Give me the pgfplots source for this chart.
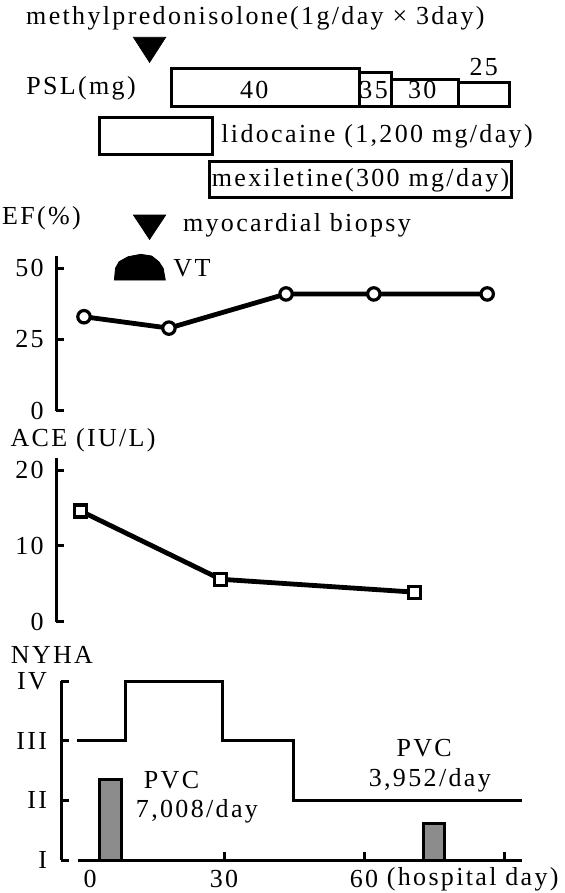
\documentclass[12pt,border=0pt]{standalone}
\usepackage{fontspec}
\setmainfont{Liberation Serif}[LetterSpace=9]
\usepackage{pgfplots}
\pgfplotsset{compat=1.18}
\pgfplotsset{every axis/.append style={font=\fontsize{13pt}{15pt}\selectfont}}
\begin{document}
\begin{tikzpicture}[every node/.style={inner sep=0pt}]
% ---------- canvas axis: x = hospital day, y = vertical position (reversed) ----------
\begin{axis}[at={(0pt,-446.5pt)}, anchor=south west, scale only axis,
  width=282pt, height=446.5pt, xmin=-18, xmax=102.857, ymin=0, ymax=893,
  y dir=reverse, hide axis, clip=false]
% PSL boxes
\addplot[line width=1.5pt] coordinates {(18.75,68.3)(58.97,68.3)(58.97,106.7)(18.75,106.7)} -- cycle;
\addplot[line width=1.5pt] coordinates {(58.97,72.7)(65.94,72.7)(65.94,106.7)(58.97,106.7)} -- cycle;
\addplot[line width=1.5pt] coordinates {(65.94,79)(80.25,79)(80.25,106.7)(65.94,106.7)} -- cycle;
\addplot[line width=1.5pt] coordinates {(80.25,82.7)(91.22,82.7)(91.22,106.7)(80.25,106.7)} -- cycle;
% lidocaine, mexiletine
\addplot[line width=1.5pt] coordinates {(3.28,117)(27.49,117)(27.49,154)(3.28,154)} -- cycle;
\addplot[line width=1.5pt] coordinates {(26.87,161.7)(91.71,161.7)(91.71,197.3)(26.87,197.3)} -- cycle;
% triangles
\addplot[fill=black, draw=black] coordinates {(10.6,37.3)(17.5,37.3)(14.05,62.3)} -- cycle;
\addplot[fill=black, draw=black] coordinates {(10.6,215)(17.5,215)(14.05,239.3)} -- cycle;
% VT dome
\addplot[fill=black, draw=black] coordinates {(6.51,280)(6.75,268.3)(7.52,261.7)(9.47,256.7)(12.17,254.3)(14.49,256)(16.03,261.7)(16.97,268.3)(17.42,280)} -- cycle;
% texts
\node at (axis cs:36.73,18.3) {methylpredonisolone(1g/day × 3day)};
\node at (axis cs:-0.64,88) {PSL(mg)};
\node at (axis cs:36.5,90) {40};
\node at (axis cs:62.06,90) {35};
\node at (axis cs:72.5,90) {30};
\node at (axis cs:85.67,66.7) {25};
\node at (axis cs:62.8,136.7) {lidocaine (1,200 mg/day)};
\node at (axis cs:59.27,180) {mexiletine(300 mg/day)};
\node at (axis cs:-9.1,218) {EF(\%)};
\node at (axis cs:45.64,225) {myocardial biopsy};
\node at (axis cs:23.14,268) {VT};
\node at (axis cs:-0.2,440) {ACE (IU/L)};
\node at (axis cs:-6.86,655) {NYHA};
\node at (axis cs:83.3,879) {(hospital day)};
\end{axis}
% ---------- EF ----------
\begin{axis}[at={(28pt,-205.35pt)}, anchor=south west, scale only axis,
  width=254pt, height=77.6pt, xmin=-6, xmax=102.857, ymin=0, ymax=54.5,
  axis x line=none, axis y line=left, axis line style={-, line width=1.5pt},
  ytick={0,25,50}, tick align=inside, major tick length=4pt,
  yticklabel style={xshift=-6pt},
  every tick/.style={line width=1.5pt, black}, clip=false,
  /pgf/number format/assume math mode=true]
\addplot[line width=2.4pt, mark=*, mark size=3.1pt, mark options={fill=white, line width=1.6pt}]
  coordinates {(0,33)(18.2,29)(43.3,41)(62.1,41)(86.4,41)};
\end{axis}
% ---------- ACE ----------
\begin{axis}[at={(28pt,-310.85pt)}, anchor=south west, scale only axis,
  width=254pt, height=81.85pt, xmin=-6, xmax=102.857, ymin=0, ymax=21.6,
  axis x line=none, axis y line=left, axis line style={-, line width=1.5pt},
  ytick={0,10,20}, tick align=inside, major tick length=4pt,
  yticklabel style={xshift=-6pt},
  every tick/.style={line width=1.5pt, black}, clip=false,
  /pgf/number format/assume math mode=true]
\addplot[line width=2.4pt, mark=square*, mark size=3pt, mark options={fill=white, line width=1.6pt}]
  coordinates {(-0.7,14.6)(29.3,5.6)(70.8,3.9)};
\end{axis}
% ---------- NYHA ----------
\begin{axis}[at={(30.7pt,-430pt)}, anchor=south west, scale only axis,
  width=251.3pt, height=89.5pt, xmin=-4.84, xmax=102.857, ymin=1, ymax=4,
  axis x line=none, axis y line=left, axis line style={-, line width=1.5pt},
  ytick={1,2,3,4}, yticklabels={I,II,III,IV}, tick align=inside, major tick length=4pt,
  yticklabel style={xshift=-7pt},
  every tick/.style={line width=1.5pt, black}, clip=false]
\addplot[line width=1.5pt, const plot] coordinates {(-1.4,3)(9,4)(29.6,3)(45,2)(93.75,2)};
\addplot[fill=black!45, draw=black, line width=1.5pt] coordinates {(3.32,1)(3.32,2.35)(8.04,2.35)(8.04,1)} -- cycle;
\addplot[fill=black!45, draw=black, line width=1.5pt] coordinates {(72.72,1)(72.72,1.61)(77.28,1.61)(77.28,1)} -- cycle;
\node at (axis cs:18.75,2.34) {PVC};
\node at (axis cs:24.2,1.81) {7,008/day};
\node at (axis cs:72.9,2.87) {PVC};
\node at (axis cs:74.1,2.34) {3,952/day};
\end{axis}
% ---------- NYHA x axis ----------
\begin{axis}[at={(38.75pt,-430pt)}, anchor=south west, scale only axis,
  width=222pt, height=89.5pt, xmin=-1.4, xmax=93.75, ymin=1, ymax=4,
  axis y line=none, axis x line=bottom, axis line style={-, line width=1.5pt},
  xtick={30,60,90}, xticklabels={30,60,}, extra x ticks={0},
  extra x tick style={major tick length=0pt, xticklabel style={xshift=3pt}},
  tick align=inside, major tick length=4pt,
  xticklabel style={yshift=-5pt},
  every tick/.style={line width=1.5pt, black}, clip=false,
  /pgf/number format/assume math mode=true]
\end{axis}
\pgfresetboundingbox
\path[use as bounding box] (0pt,0pt) rectangle (282pt,-446.5pt);
\end{tikzpicture}
\end{document}
